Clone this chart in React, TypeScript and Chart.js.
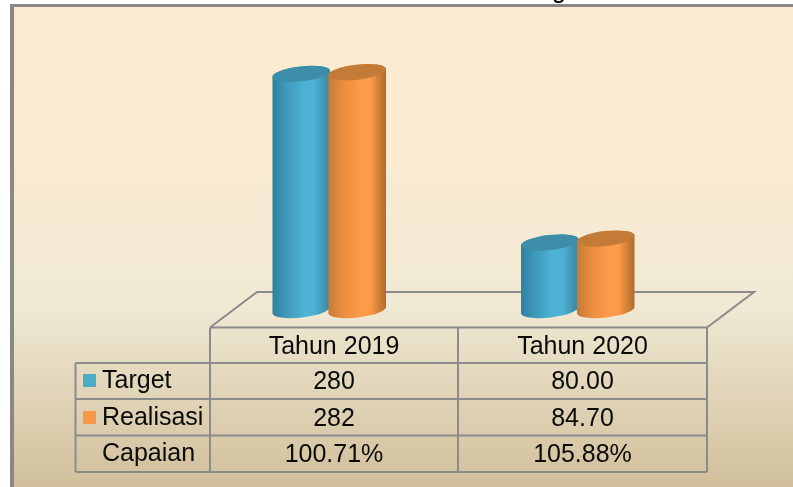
import React, { useEffect, useRef } from "react";
import { Chart, registerables } from "chart.js";

Chart.register(...registerables);

const categories = ["Tahun 2019", "Tahun 2020"];
const targetValues = [280, 80];
const realisasiValues = [282, 84.7];
const targetLabels = ["280", "80.00"];
const realisasiLabels = ["282", "84.70"];
const capaianLabels = ["100.71%", "105.88%"];
const croppedTitle = "g";

const LINE = "#8b8b8d";
const FONT = "25px 'Liberation Sans', Arial, sans-serif";

const cylinderStyles = [
  { edgeL: "#2f7f9f", near: "#3f9abb", mid: "#4db2d4", edgeR: "#38849f", top: "#3d8ea9" },
  { edgeL: "#c47a36", near: "#ea8d3f", mid: "#fd9b48", edgeR: "#b06a2c", top: "#c47b38" },
];

const sceneryPlugin = {
  id: "scenery",
  beforeDraw(chart: any) {
    const { ctx, width, height } = chart;
    ctx.save();
    ctx.fillStyle = "#ffffff";
    ctx.fillRect(0, 0, width, height);
    const g = ctx.createLinearGradient(0, 5, 0, height);
    g.addColorStop(0, "#fdebd0");
    g.addColorStop(0.3, "#fbebd1");
    g.addColorStop(0.62, "#f0e9d4");
    g.addColorStop(1, "#d1bf9b");
    ctx.fillStyle = g;
    ctx.fillRect(10, 4, width - 10, height - 4);
    ctx.fillStyle = "#888888";
    ctx.fillRect(10, 4, width - 10, 3);
    ctx.fillRect(10, 4, 4, height - 4);

    ctx.fillStyle = "#000000";
    ctx.font = FONT;
    ctx.textAlign = "center";
    ctx.textBaseline = "alphabetic";
    ctx.fillText(croppedTitle, 559, -2);

    // floor of the 3D plot
    ctx.strokeStyle = LINE;
    ctx.lineWidth = 2;
    ctx.beginPath();
    ctx.moveTo(210, 327.5);
    ctx.lineTo(257, 292);
    ctx.lineTo(754, 292);
    ctx.lineTo(707, 327.5);
    ctx.stroke();

    // data table
    const cols = [75.5, 210, 458, 707];
    const rows = [327.5, 363, 399, 435.5, 472];
    ctx.beginPath();
    rows.forEach((y, i) => {
      ctx.moveTo(i === 0 ? cols[1] : cols[0], y);
      ctx.lineTo(cols[3], y);
    });
    cols.forEach((x, i) => {
      ctx.moveTo(x, i === 0 ? rows[1] : rows[0]);
      ctx.lineTo(x, rows[4]);
    });
    ctx.stroke();

    ctx.fillStyle = "#4bacc6";
    ctx.fillRect(83, 374, 13, 13);
    ctx.fillStyle = "#f79646";
    ctx.fillRect(83, 411, 13, 13);

    ctx.fillStyle = "#0a0a0a";
    ctx.textBaseline = "middle";
    const table = [categories, targetLabels, realisasiLabels, capaianLabels];
    table.forEach((row, r) => {
      const y = (rows[r] + rows[r + 1]) / 2 + 1.5;
      row.forEach((text, c) => {
        ctx.textAlign = "center";
        ctx.fillText(text, (cols[c + 1] + cols[c + 2]) / 2, y);
      });
    });
    ctx.textAlign = "left";
    chart.data.datasets.forEach((ds: any, i: number) => {
      ctx.fillText(ds.label, 102, (rows[i + 1] + rows[i + 2]) / 2 + 0.5);
    });
    ctx.fillText("Capaian", 102, (rows[3] + rows[4]) / 2 + 0.5);
    ctx.restore();
  },
  afterDatasetsDraw(chart: any) {
    const { ctx } = chart;
    const rot = -0.115;
    const ry = 7.5;
    const drawCyl = (el: any, s: any) => {
      const rx = 29;
      const cx = el.x;
      const top = el.y;
      const base = el.base;
      ctx.save();
      const grad = ctx.createLinearGradient(cx - rx, 0, cx + rx, 0);
      grad.addColorStop(0, s.edgeL);
      grad.addColorStop(0.25, s.near);
      grad.addColorStop(0.55, s.mid);
      grad.addColorStop(0.72, s.mid);
      grad.addColorStop(1, s.edgeR);
      ctx.fillStyle = grad;
      ctx.beginPath();
      ctx.ellipse(cx, top, rx, ry, rot, Math.PI, 0, false);
      ctx.ellipse(cx, base, rx, ry, rot, 0, Math.PI, false);
      ctx.closePath();
      ctx.fill();
      ctx.fillStyle = s.top;
      ctx.beginPath();
      ctx.ellipse(cx, top, rx, ry, rot, 0, Math.PI * 2);
      ctx.fill();
      ctx.restore();
    };
    categories.forEach((_, i) => {
      chart.data.datasets.forEach((__: any, d: number) => {
        drawCyl(chart.getDatasetMeta(d).data[i], cylinderStyles[d]);
      });
    });
  },
};

export default function App() {
  const ref = useRef<HTMLCanvasElement>(null);
  useEffect(() => {
    const chart = new Chart(ref.current as HTMLCanvasElement, {
      type: "bar",
      data: {
        labels: categories,
        datasets: [
          { label: "Target", data: targetValues, backgroundColor: "transparent" },
          { label: "Realisasi", data: realisasiValues, backgroundColor: "transparent" },
        ],
      },
      options: {
        animation: false,
        responsive: false,
        events: [],
        layout: { padding: { left: 205, right: 91, top: 57, bottom: 177 } },
        datasets: { bar: { categoryPercentage: 0.45, barPercentage: 1 } },
        plugins: { legend: { display: false }, tooltip: { enabled: false }, title: { display: false } },
        scales: {
          x: { display: false },
          y: { display: false, min: 0, max: 300 },
        },
      },
      plugins: [sceneryPlugin],
    } as any);
    return () => chart.destroy();
  }, []);
  return (
    <canvas
      ref={ref}
      width={793}
      height={487}
      style={{ position: "fixed", left: 0, top: 0, width: 793, height: 487, display: "block" }}
    />
  );
}
